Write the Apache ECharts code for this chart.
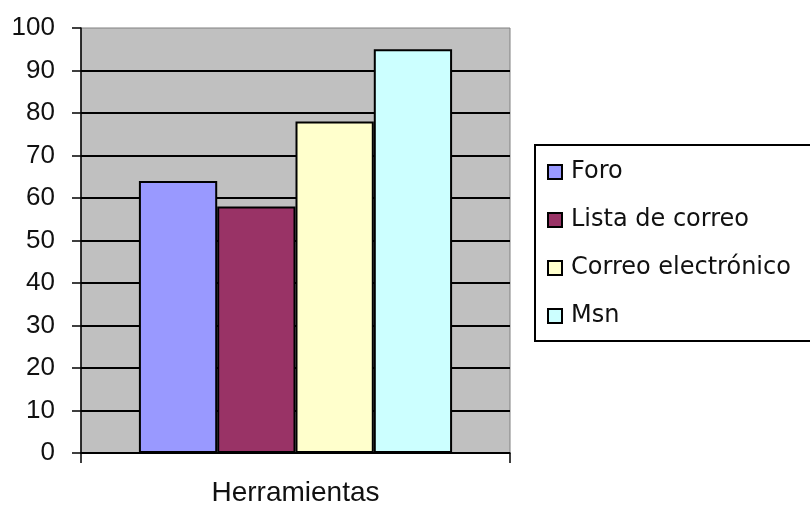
<!DOCTYPE html>
<html>
<head>
<meta charset="utf-8">
<script src="https://cdn.jsdelivr.net/npm/echarts@6/dist/echarts.min.js"></script>
<style>
  html, body { margin: 0; padding: 0; background: #fff; }
  #chart { width: 810px; height: 509px; }
</style>
</head>
<body>
<div id="chart"></div>
<script>
// datos
const categorias = ['Herramientas'];
const herramientas = ['Foro', 'Lista de correo', 'Correo electrónico', 'Msn'];
const valores = [64, 58, 78, 95];
const colores = ['#9999ff', '#993366', '#ffffcc', '#ccffff'];

const chart = echarts.init(document.getElementById('chart'));

const series = herramientas.map(function (nombre, i) {
  return {
    name: nombre,
    type: 'bar',
    data: [valores[i]],
    barGap: '0%',
    barCategoryGap: '27%',
    itemStyle: { color: colores[i], borderColor: '#000', borderWidth: 2 }
  };
});

chart.setOption({
  animation: false,
  backgroundColor: '#fff',
  grid: {
    left: 81, right: 300, top: 28, bottom: 56,
    show: true,
    backgroundColor: '#c0c0c0',
    borderColor: '#808080',
    borderWidth: 1
  },
  legend: {
    orient: 'vertical',
    left: 535, top: 145,
    padding: [15, 45, 13, 12],
    itemGap: 24,
    itemWidth: 14, itemHeight: 14,
    icon: 'rect',
    borderColor: '#000', borderWidth: 2,
    backgroundColor: '#fff',
    textStyle: { fontFamily: 'DejaVu Sans', fontSize: 24, color: '#111', padding: [0, 0, 0, 4] },
    data: herramientas
  },
  xAxis: {
    type: 'category',
    data: categorias,
    axisLine: { lineStyle: { color: '#000', width: 1.5 } },
    axisTick: { show: true, length: 10, lineStyle: { color: '#000', width: 1.5 } },
    axisLabel: { margin: 26, fontFamily: 'Liberation Sans', fontSize: 28, color: '#111' }
  },
  yAxis: {
    type: 'value',
    min: 0, max: 100, interval: 10,
    axisLine: { show: true, lineStyle: { color: '#000', width: 1.5 } },
    axisTick: { show: true, length: 9, lineStyle: { color: '#000', width: 1.5 } },
    axisLabel: { margin: 26, fontFamily: 'Liberation Sans', fontSize: 26, color: '#111' },
    splitLine: { show: true, showMaxLine: false, lineStyle: { color: '#000', width: 2 } }
  },
  series: series
});
</script>
</body>
</html>
